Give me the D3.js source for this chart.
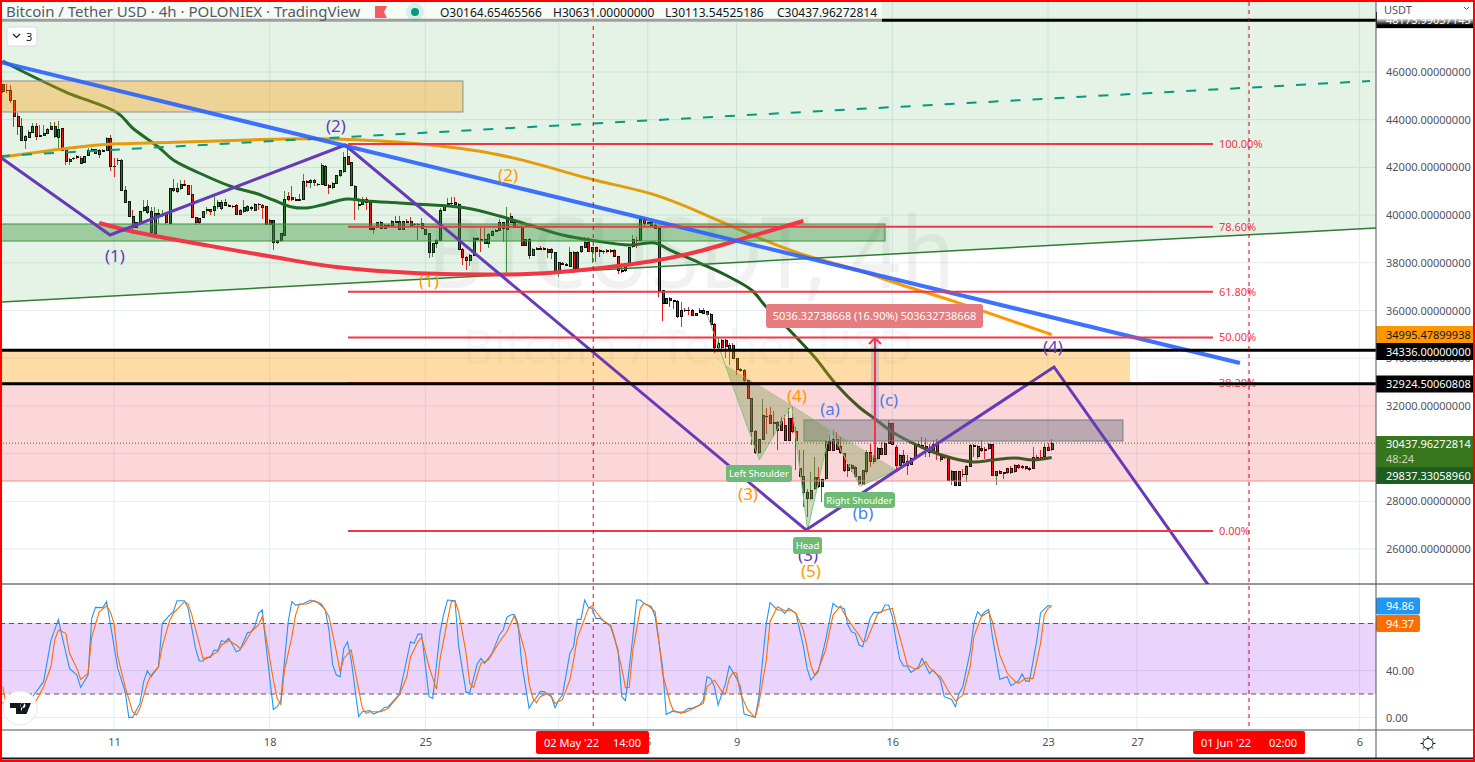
<!DOCTYPE html>
<html><head><meta charset="utf-8">
<script src="https://cdnjs.cloudflare.com/ajax/libs/d3/7.8.5/d3.min.js"></script>
<style>html,body{margin:0;padding:0;background:#fff;overflow:hidden}svg{display:block}text{font-family:"Noto Sans",sans-serif}</style>
</head><body><svg id="c" width="1475" height="762"></svg>
<script>
// ---------- candles (4h bars from 6 Apr 2022 00:00 UTC) ----------
const opens=[45455,45245,45245,44797,44153,43733,43117,43257,43453,43733,
43313,43341,43425,43593,43733,43257,43635,42753,42249,42361,
42445,42375,42193,42515,42697,42753,42697,42669,42725,43215,
42053,42305,42305,41017,40555,39953,39477,39673,40177,40345,
40135,39225,40037,40023,40065,39645,41115,40975,41115,41297,
41241,40863,39897,39673,39897,40205,40233,40177,40345,40527,
40541,40401,40373,40401,40205,40135,40177,40317,40205,40457,
40401,40373,39785,39785,38847,38917,39155,40765,40737,40653,
40653,40653,41395,41353,41465,41297,41297,42053,41255,41157,
41325,41675,41815,42445,42190,41220,40422,40450,40660,40534,
39414,39484,39708,39582,39540,39568,39722,39736,39400,39722,
39750,39624,39624,39652,39400,39232,38420,38812,38952,40184,
40436,40492,40520,40464,38560,38224,38084,38322,39008,38980,
38980,38812,39162,39344,39372,39680,39400,39932,39680,39512,
39540,38714,38994,38294,38588,38602,38602,38574,38560,38434,
37594,37972,37930,37860,38448,38448,38462,38644,38868,38462,
38644,38504,38490,38504,38504,38532,38252,37678,37664,37972,
38672,38952,38952,39820,39680,39708,39582,39442,36852,36292,
36502,36404,36362,35740,36020,36020,36020,35810,35908,35880,
35950,35852,35432,34452,34760,34760,34340,34550,33990,33500,
33500,33052,32310,30938,30028,30588,31568,31610,31288,31288,
31330,31190,30560,31470,30910,29370,29048,28362,28110,28530,
28992,28600,28950,30490,30140,30602,30308,30000,29300,29510,
29412,29020,28712,29230,30028,29650,29790,30210,29972,30420,
31260,30252,29510,29902,29650,29552,29790,30336,30336,30280,
30056,30028,30392,29748,29860,29790,28880,29230,28670,29132,
29132,29468,30322,29888,30210,30168,30196,30392,29076,29230,
29188,29188,29356,29230,29510,29440,29440,29384,29370,29832,
29832,29860,30252,30164];
const highs=[45500,45497,45455,44797,44265,44055,43355,43565,43845,43845,
43775,43775,43635,43915,43915,43943,43635,42753,42375,42417,
42501,42473,42473,42795,42795,42781,42753,42753,43285,43355,
42375,42375,42333,41213,40555,40205,39715,40177,40625,40625,
40345,40345,40275,40205,40135,41157,41493,41325,41465,41465,
41269,41269,39925,39897,40177,40345,40275,40765,40625,40653,
40695,40457,40429,40457,40275,40653,40415,40373,40513,40513,
40457,40401,39855,39813,38973,39253,41017,40975,41213,40765,
40905,41717,41465,41493,41493,41353,42165,42095,41297,41395,
41675,41885,42655,42935,42220,41250,40702,40744,40744,40562,
39512,39722,39736,39624,39624,39792,39960,39960,39764,39820,
39932,39680,39680,39862,39428,39260,38840,38980,40282,40464,
40702,40744,40772,40492,38602,38280,38364,39064,39064,39470,
39470,39232,39372,39428,39820,39708,40324,40072,39708,39568,
39568,39008,39022,38602,38644,38700,38672,38602,38616,38462,
38042,38028,37972,38672,38476,38476,38700,39092,39092,38672,
38672,38560,38532,38560,38560,38560,38280,37972,38000,38672,
39162,39092,39960,39904,39722,39764,39652,39484,36880,36544,
36572,36460,36460,36370,36090,36132,36048,35908,36090,36090,
35992,35880,35460,34830,34788,34788,34648,34620,34018,33570,
33528,33080,32352,30980,30630,32310,31932,31960,31792,31372,
31540,31610,31932,31960,31120,30140,30140,28530,29230,29860,
29440,28950,30560,30980,30980,30910,30700,30028,29580,29552,
29468,29076,29300,30140,30392,29930,30280,30490,30490,31400,
31288,30350,30000,30168,29930,29860,30392,30532,30700,30672,
30392,30588,30630,29930,29930,29818,29300,29258,29258,29370,
29510,30420,30392,30350,30588,30280,30448,30420,29258,29328,
29230,29412,29468,29580,29580,29510,29468,29440,30280,29930,
30140,30392,30448,30631];
const lows=[45130,45133,44685,43705,43355,43117,42753,43215,43425,43145,
43285,43313,43397,43565,43215,42795,42697,42095,42095,42305,
42361,42137,42165,42473,42669,42557,42375,42641,42697,41857,
41605,42095,41017,40527,39925,39225,39449,39645,40135,40065,
39225,39197,39645,39925,39645,39617,40989,40933,41073,41213,
40835,39897,39575,39645,39869,40065,39995,39953,40275,40205,
40373,40345,40289,39995,39995,40107,40149,40177,40177,40205,
39855,39589,39589,38525,38805,38889,39127,40597,40597,40597,
40597,40625,41185,41157,41213,41241,41269,41227,40905,41115,
41297,41605,41773,42095,41200,39792,40212,40422,40212,39372,
39204,39456,39414,39400,39512,39540,39652,39372,39372,39652,
39554,39512,38952,39414,39162,38182,38224,38602,38924,40156,
40408,40436,40436,38532,37902,37692,37860,38280,38952,38462,
38784,38602,39120,39288,39344,38882,37482,39652,39456,39456,
38686,38686,38168,38266,38532,38532,38560,38182,38140,37566,
37412,37888,37860,37832,37552,37692,38420,38616,38434,37972,
38042,38252,38364,38392,38420,38224,37524,37580,37622,37944,
38602,38602,38924,39512,39624,39540,39400,36572,35564,36264,
36152,36082,35704,35320,35950,35810,35782,35768,35880,35852,
35824,35404,34200,34270,34270,33990,33710,33948,33290,33430,
33010,32282,30350,30000,30000,30560,30812,31232,30700,30168,
30952,30532,30532,30868,29300,29020,27760,27340,28068,28460,
28572,27970,28880,30112,30112,30140,30000,29244,29020,29230,
29020,28698,28670,29160,29440,29580,29720,29930,29930,30392,
30364,29300,29482,29580,29090,29510,29748,30280,30210,29860,
29860,30000,29720,29650,29790,28852,28670,28642,28642,29020,
28810,29440,29860,29790,30084,29790,30168,29062,28670,29132,
28950,29160,29160,29188,29370,29356,29300,29272,29342,29748,
29776,29832,30112,30113];
const closes=[45175,45217,44797,44125,43733,43117,43285,43453,43733,43285,
43341,43425,43593,43733,43285,43593,42725,42235,42333,42389,
42403,42165,42445,42697,42753,42585,42557,42725,43215,42053,
42039,42277,41017,40527,39953,39477,39673,40135,40317,40093,
39253,40065,40065,40037,39673,41115,41017,41115,41283,41241,
40863,39897,39673,39855,40149,40233,40135,40373,40527,40275,
40401,40373,40345,40023,40023,40317,40345,40289,40457,40429,
40317,39617,39617,38847,38931,39225,40653,40653,40653,40639,
40639,41409,41381,41437,41381,41283,42081,41255,41157,41325,
41647,41857,42417,42123,41230,40632,40464,40660,40534,39400,
39428,39694,39442,39428,39554,39750,39708,39400,39736,39708,
39582,39610,39610,39442,39190,38420,38812,38952,40212,40408,
40492,40478,40464,38560,38224,38084,38322,39022,38994,38952,
38812,39204,39330,39330,39680,39442,39904,39680,39484,39498,
38714,38980,38294,38574,38574,38588,38588,38434,38420,37594,
38014,37944,37888,38434,37762,37762,38672,38840,38462,38644,
38462,38490,38476,38490,38490,38252,37692,37664,37972,38644,
38980,38938,39820,39652,39666,39582,39442,36852,36292,36502,
36404,36362,35732,35990,35992,35992,35810,35880,36020,35992,
35852,35432,34452,34620,34452,34480,34550,33990,33528,33528,
33080,32310,30938,30028,30588,31610,31554,31260,31274,30980,
30980,30560,31470,30910,30532,29048,28362,28110,28460,28992,
28600,28922,30490,30140,30588,30168,30028,29272,29538,29370,
29048,28740,29272,30028,29678,29790,30210,29972,30420,31260,
30392,29510,29930,29622,29510,29790,30322,30392,30252,30070,
30028,30392,30000,29860,29832,28880,29230,28670,29230,29118,
29468,30350,30308,30280,30112,30154,30392,29090,29230,29160,
29174,29356,29202,29510,29412,29426,29356,29328,29832,29818,
29818,30238,30140,30438];

// ---------- moving averages (bar index, price) ----------
const maGreenBars=[0,3,17,31,35,42,46,53,62,68,73,78,82,86,93,98,107,116,125,134,142,151,160,169,176,180,188,195,202,206,213,219,225,231,235,240,246,251,256,262,267,273,278,283];
const maGreenPrices=[46461,46210,45161,44281,43652,42855,42310,41765,41178,40926,40633,40340,40298,40423,40675,40591,40507,40423,40298,39962,39585,39165,38914,38746,38830,38536,37991,37488,36859,36146,35056,34050,32876,31954,31492,30905,30402,30067,29815,29648,29731,29815,29731,29837];
const maOrangeBars=[0,17,31,44,71,89,112,134,150,161,175,188,202,215,229,242,256,269,283];
const maOrangePrices=[42436,42813,43023,43023,43191,43233,43023,42604,41891,41388,40968,40130,39165,38327,37823,37069,36440,35727,34995];

// ---------- drawn shapes: days since 11 Apr 2022, price ----------
const fibLevels=[1,0.786,0.618,0.5,0.382,0];
const fibNames=["100.00%","78.60%","61.80%","50.00%","38.20%","0.00%"];
const fibHigh=42981, fibLow=26755, fibFromDay=10.52, fibToDay=49.42;
const blueDays=[-5.126,50.63], bluePrices=[46419,33799];
const slopeDays=[-5.126,56.75], slopePrices=[36356,39459];
const tealDays=[-5.126,56.48], tealPrices=[42478,45623];
const waveDays=[-5.126,-0.18,10.39,31.12,42.27,50];
const wavePrices=[42436,39166,42939,26797,33631,23446];
const arcBars=[26,35,44,53,62,75,89,112,136,149,162,175,188,202,216];
const arcPrices=[39669,39291,39040,38788,38536,38201,37782,37530,37488,37572,37782,38033,38453,39123,39752];
const levelLines=[48173.99037145,34336,32924.50060808];
const boxTan=[-5.126,15.69,45623,44323];
const boxGreen=[-5.126,34.67,39627,38914];
const boxOrange=[-5.126,45.69,34336,32924];
const boxPink=[-5.126,56.75,32924,28851];
const boxGray=[31.03,45.37,31409,30528];
const hsDays=[26.65,29.02,30.47,31.19,32.2,33.55,35.2];
const hsPrices=[35882,29731,32037,26796,30989,28641,29312];
const neckDay=27.48, neckPrice=33714;
const rangeDay=34.22, rangeTop=34845, rangeBottom=29809;
const purpleLabels=["(1)","(2)","(3)","(4)"], purpleLabelDays=[0.04,9.98,31.21,42.22], purpleLabelPrices=[38285,43736,25748,34470];
const orangeLabels=["(1)","(2)","(3)","(4)","(5)"], orangeLabelDays=[14.16,17.72,28.51,30.71,31.34], orangeLabelPrices=[37237,41681,28305,32415,25077];
const blueLabels=["(a)","(b)","(c)"], blueLabelDays=[32.2,33.68,34.85], blueLabelPrices=[31870,27509,32247];
const vlineDays=[21.55,51.04];

// ---------- stochastic RSI (bar index, value) ----------
const kBars=[0,1,2,8,11,13,15,16,18,20,21,23,24,25,27,28,29,31,33,34,35,37,38,39,40,42,43,45,46,47,49,50,52,53,54,55,56,57,58,59,60,61,63,64,66,67,68,69,70,71,73,74,75,77,78,79,81,83,85,86,87,88,89,90,91,92,93,94,96,97,99,100,102,103,104,106,107,110,111,112,113,115,116,118,119,120,122,123,125,126,128,129,130,132,134,135,136,137,138,139,140,142,143,144,145,146,148,149,150,151,153,154,155,156,157,158,159,160,161,163,164,166,167,168,170,171,172,173,175,176,178,179,181,183,185,186,188,189,190,191,192,193,195,196,198,199,200,203,204,206,207,209,210,211,212,214,216,217,218,220,222,224,225,227,228,229,230,231,232,234,235,237,238,239,240,241,242,243,244,245,247,248,249,250,251,252,253,254,256,257,258,259,261,262,263,264,265,266,267,269,271,272,274,275,276,277,279,280,282,283];
const kValues=[13.4,0.7,0.1,17.7,30.5,65.9,83.5,68.8,41.8,36.1,25.6,36.1,84.4,93.7,93.5,98.6,80.1,41.8,22,0.1,0.1,12,30.5,39.8,34.7,43.2,80.1,87.2,90,99.4,99.4,92.9,58.8,48.1,48.1,51.2,51.2,57.4,56.9,65.4,64.5,67.4,56,57.4,72.2,73,77.8,88.6,91.5,61.7,6.9,9.2,14.3,81.5,98.6,95.7,96.6,100,97.7,94.9,91.5,74.4,44.7,36.1,34.7,58.8,64.5,48.9,0.7,4.9,5.8,2.9,5.8,8.6,9.2,16.3,20,64.5,63.1,71,71,17.7,16.3,73,88.6,100,99.4,60.3,21.4,21.4,45.5,50.3,46.1,54.6,70.5,74.4,85.2,87.2,87.8,80.1,46.1,7.8,13.4,17.1,22,22,17.7,8.3,14.9,19.1,54.6,60.3,83.5,83.5,100,93.7,92.9,84.4,84.4,80.1,77.3,57.4,17.7,14.3,68.8,100,100,97.1,94.3,85.8,43.2,2.7,5.8,3.5,7.8,7.8,10.6,14.9,34.7,33.3,26.2,10.6,29,43.8,33.3,26.2,3,0.1,17.7,80.1,97.7,91.5,91.5,88.6,92.9,88.6,60.3,41.8,31.9,39,65.9,97.1,94.3,92.9,78.7,73,71.6,61.7,60.3,84.4,89.5,89.5,95.7,95.7,85.8,65.9,49.5,43.8,43.8,38.4,42.7,50.3,43.8,37.6,40.4,36.7,31.9,17.7,15.4,9.2,20.5,26.2,56,80.1,90,86.4,90,92,68.8,32.5,34.7,27.1,31,37,31,31,65.9,89.2,95.2,94.86];
const dBars=[0,1,9,11,13,14,15,17,18,20,21,23,24,26,28,29,30,31,33,35,36,37,39,40,42,43,45,46,49,50,51,53,54,55,58,59,61,63,64,65,67,69,70,71,73,74,75,76,78,79,80,82,84,86,88,90,91,92,94,95,97,98,99,102,104,107,109,110,112,113,115,117,118,120,121,122,123,125,126,127,129,131,134,136,138,139,141,142,143,144,145,147,148,149,151,153,154,155,157,158,159,160,162,164,165,167,168,169,170,172,173,174,176,177,178,180,181,184,186,189,190,192,194,195,196,197,198,199,201,203,204,206,207,209,211,213,214,216,218,219,220,222,224,226,227,229,231,232,233,235,236,238,240,241,243,244,246,247,249,250,252,253,255,257,259,261,262,264,266,267,269,271,273,274,276,277,278,280,281,282,283];
const dValues=[26.2,9.2,14.3,26.2,43.2,65.9,74.4,71.6,54.6,41.8,32.5,37.6,68.8,90,94.9,90,80.1,51.7,26.2,4.9,2.1,7.8,29,36.1,43.2,60.3,82.4,88.6,98.6,96.6,87.2,63.1,50.3,50.3,56,61.7,65.4,61.7,58.8,61.7,73,78.7,85.8,68.8,31.9,16.3,11.2,40.4,68.8,87.2,96.6,96.6,99.4,96.6,85.8,56,39,50.3,57.4,40.4,7.8,3.5,4.9,4.9,7.8,19.1,34.7,51.7,64.5,68.2,43.2,24.2,50.3,83,98.6,99.4,90,54.6,29,25.6,46.1,48.9,64.5,73,86.6,77.3,54.6,29,16.3,12.6,17.7,20.5,18.3,12,15.4,31.9,48.9,67.4,84.4,92.9,94.9,90,82.4,78.7,68.8,41.8,25.4,25.6,57.4,92.9,97.1,95.7,90,65.9,37.6,13.4,4.9,4.4,7.2,12,26.2,31.9,22,20,33.3,38.4,37.6,20.5,6.4,0.1,12,48.9,81.5,94.3,90.9,90.9,88.6,74.4,44.7,36.1,40.4,57.4,87.2,94.9,88.6,78.7,70.2,64.5,65.1,80.1,88.1,91.5,92.9,80.1,57.4,44.7,41.3,41.8,47.5,42.7,36.7,34.7,23.4,14,19.1,43.2,68.8,85.8,90,81.5,53.2,37.6,31,29,33.3,33.3,33.3,63.1,87.2,92.9,94.37];

// ---------- axes ----------
const priceTicks=[46000,44000,42000,40000,38000,36000,34000,32000,30000,28000,26000];
const stochTicks=[0,40];
const timeTickDays=[0,7,14,20,24,28,35,42,46,51,56];
const timeTickLabels=["11","18","25","May","5","9","16","23","27","Jun","6"];
const priceLabels=[{t:"34995.47899938",c:334.5,bg:"#ff9800",fg:"#131722"},{t:"34336.00000000",c:351.5,bg:"#000",fg:"#fff"},{t:"32924.50060808",c:384,bg:"#000",fg:"#fff"},{t:"29837.33058960",c:475.5,bg:"#1b5e20",fg:"#fff"}];
const legendO="O30164.65465566", legendH="H30631.00000000", legendL="L30113.54525186", legendC="C30437.96272814";

const svg=d3.select("#c");
const W=1376, MAINB=584, SUBB=730;
const dayMs=864e5, t0=Date.UTC(2022,3,11);
const dayDate=d=>new Date(t0+d*dayMs);
const barDate=i=>new Date(Date.UTC(2022,3,6)+i*4*36e5);
const x=d3.scaleUtc().domain([dayDate(0),dayDate(42)]).range([114,1048]);
const y=d3.scaleLinear().domain([46000,26000]).range([72,549]);
const ys=d3.scaleLinear().domain([0,40]).range([717.5,670.5]);
const X=d=>x(dayDate(d)), XB=i=>x(barDate(i));

const defs=svg.append("defs");
defs.append("clipPath").attr("id","mp").append("rect").attr("x",2).attr("y",2).attr("width",W-2).attr("height",MAINB-2);
defs.append("clipPath").attr("id","sp").append("rect").attr("x",2).attr("y",MAINB).attr("width",W-2).attr("height",SUBB-MAINB);
const gr=defs.append("linearGradient").attr("id","fade").attr("x1",0).attr("x2",0).attr("y1",0).attr("y2",1);
gr.append("stop").attr("offset",0).attr("stop-color","#fff").attr("stop-opacity",1);
gr.append("stop").attr("offset",1).attr("stop-color","#fff").attr("stop-opacity",0);

svg.append("rect").attr("width",1475).attr("height",762).attr("fill","#fff");

// grid
const gridCol="#e2ebf3";
const gg=svg.append("g");
gg.selectAll("line.v").data(timeTickDays).join("line").attr("x1",d=>X(d)).attr("x2",d=>X(d)).attr("y1",2).attr("y2",SUBB).attr("stroke",gridCol);
gg.selectAll("line.h").data(priceTicks).join("line").attr("class","h").attr("x1",0).attr("x2",W).attr("y1",d=>y(d)).attr("y2",d=>y(d)).attr("stroke",gridCol);
gg.selectAll("line.s").data([0,40,80]).join("line").attr("class","s").attr("x1",0).attr("x2",W).attr("y1",d=>ys(d)).attr("y2",d=>ys(d)).attr("stroke",gridCol);

const main=svg.append("g").attr("clip-path","url(#mp)");
// watermark
main.append("text").attr("x",691).attr("y",288).attr("text-anchor","middle").attr("font-size",98).attr("textLength",528).attr("lengthAdjust","spacingAndGlyphs").attr("fill","#000").attr("fill-opacity",.055).text("BTCUSDT, 4h");
main.append("text").attr("x",688).attr("y",364).attr("text-anchor","middle").attr("font-size",48).attr("fill","#000").attr("fill-opacity",.055).text("Bitcoin / Tether USD");

// candles
const idx=d3.range(opens.length);
const up=i=>closes[i]>=opens[i];
const cG="#2a7a2e", cR="#ff0000";
main.append("g").selectAll("line").data(idx).join("line")
 .attr("x1",XB).attr("x2",XB).attr("y1",i=>y(highs[i])).attr("y2",i=>y(lows[i]))
 .attr("stroke",i=>up(i)?"#3d8b33":"#f0141c").attr("stroke-width",1).attr("shape-rendering","crispEdges");
main.append("g").selectAll("rect").data(idx).join("rect")
 .attr("x",i=>Math.round(XB(i))-1).attr("width",2)
 .attr("y",i=>y(Math.max(opens[i],closes[i]))).attr("height",i=>Math.max(.6,Math.abs(y(opens[i])-y(closes[i]))))
 .attr("fill",i=>up(i)?cG:cR).attr("stroke","#000").attr("stroke-width",1).attr("shape-rendering","crispEdges");

// moving averages
const pathBars=(bars,vals,yy,curve)=>d3.line().x(i=>XB(bars[i])).y(i=>yy(vals[i])).curve(curve||d3.curveLinear)(d3.range(bars.length));
const pathDays=(days,vals)=>d3.line().x(i=>X(days[i])).y(i=>y(vals[i]))(d3.range(days.length));
main.append("path").attr("d",pathBars(maGreenBars,maGreenPrices,y,d3.curveCatmullRom)).attr("fill","none").attr("stroke","#1b5e20").attr("stroke-width",3);
main.append("path").attr("d",pathBars(maOrangeBars,maOrangePrices,y,d3.curveBasis)).attr("fill","none").attr("stroke","#ff9800").attr("stroke-width",3);

// boxes
const box=(b,fill,op,stroke,sw)=>main.append("rect").attr("x",X(b[0])).attr("width",X(b[1])-X(b[0])).attr("y",y(b[2])).attr("height",y(b[3])-y(b[2])).attr("fill",fill).attr("fill-opacity",op).attr("stroke",stroke||"none").attr("stroke-width",sw||1);
// green channel fill: everything above the rising line
main.append("path").attr("d",d3.area().x(i=>X(slopeDays[i])).y0(i=>y(slopePrices[i])).y1(0)(d3.range(2))).attr("fill","#4caf50").attr("fill-opacity",.15);
box(boxTan,"#ff9800",.35,"#8f8f8f",1);
box(boxGreen,"#388e3c",.4,"#3f933f",1);
box(boxOrange,"#ff9800",.35);
box(boxPink,"#f23645",.2);
main.append("line").attr("x1",0).attr("x2",W).attr("y1",y(boxPink[3])).attr("y2",y(boxPink[3])).attr("stroke","#f28d92");
box(boxGray,"#787b86",.5,"#787b86",1);
main.append("path").attr("d",pathDays(slopeDays,slopePrices)).attr("stroke","#2e7d32").attr("stroke-width",1.5).attr("fill","none");
main.append("path").attr("d",pathDays(tealDays,tealPrices)).attr("stroke","#089981").attr("stroke-width",2).attr("stroke-dasharray","10 12").attr("fill","none");

// head & shoulders
const hs=d3.range(hsDays.length).map(i=>[X(hsDays[i]),y(hsPrices[i])]);
const nk=[X(neckDay),y(neckPrice)];
const hsPoly=pts=>main.append("polygon").attr("points",pts.map(p=>p.join(",")).join(" ")).attr("fill","#7a9a4a").attr("fill-opacity",.38);
hsPoly([nk,hs[1],hs[2]]);hsPoly([hs[2],hs[3],hs[4]]);hsPoly([hs[4],hs[5],hs[6]]);
main.append("path").attr("d",d3.line()(hs)).attr("fill","none").attr("stroke","#81c784").attr("stroke-width",1);
main.append("line").attr("x1",nk[0]).attr("y1",nk[1]).attr("x2",hs[6][0]).attr("y2",hs[6][1]).attr("stroke","#81c784").attr("stroke-dasharray","1 2");

// arcs and trend lines
main.append("path").attr("d",pathBars(arcBars,arcPrices,y,d3.curveBasis)).attr("fill","none").attr("stroke","#f23645").attr("stroke-width",4);
main.append("path").attr("d",pathDays(waveDays,wavePrices)).attr("fill","none").attr("stroke","#673ab7").attr("stroke-width",3);
main.append("path").attr("d",pathDays(blueDays,bluePrices)).attr("fill","none").attr("stroke","#2962ff").attr("stroke-width",4).attr("stroke-opacity",.9);

// fib
const fibP=l=>fibLow+(fibHigh-fibLow)*l;
main.append("g").selectAll("line").data(fibLevels).join("line").attr("x1",X(fibFromDay)).attr("x2",X(fibToDay)).attr("y1",l=>y(fibP(l))).attr("y2",l=>y(fibP(l))).attr("stroke","#f23645").attr("stroke-width",2);
main.append("g").selectAll("text").data(fibLevels).join("text").attr("x",X(fibToDay)+6).attr("y",l=>y(fibP(l))+4).attr("font-size",11).attr("fill","#f23645").text((l,i)=>fibNames[i]);

// range arrow
const ax=X(rangeDay);
main.append("rect").attr("x",ax-4).attr("width",8).attr("y",y(rangeTop)).attr("height",y(31400)-y(rangeTop)).attr("fill","#2962ff").attr("fill-opacity",.2);
main.append("line").attr("x1",ax).attr("x2",ax).attr("y1",y(rangeBottom)).attr("y2",y(rangeTop)).attr("stroke","#f23645").attr("stroke-width",2);
main.append("path").attr("d",`M${ax-6},${y(rangeTop)+6}L${ax},${y(rangeTop)}L${ax+6},${y(rangeTop)+6}`).attr("fill","none").attr("stroke","#f23645").attr("stroke-width",2);
main.append("rect").attr("x",766).attr("y",304).attr("width",217).attr("height",24).attr("rx",3).attr("fill","#e57c7f");
main.append("text").attr("x",874.5).attr("y",320).attr("text-anchor","middle").attr("font-size",11).attr("fill","#fff").text("5036.32738668 (16.90%) 503632738668");

// level lines & price line
main.append("g").selectAll("line").data(levelLines).join("line").attr("x1",0).attr("x2",W).attr("y1",d=>y(d)).attr("y2",d=>y(d)).attr("stroke","#000").attr("stroke-width",3);
main.append("line").attr("x1",0).attr("x2",W).attr("y1",y(closes[283])).attr("y2",y(closes[283])).attr("stroke","#2e7d32").attr("stroke-dasharray","1 2");
// crosshair-like dashed verticals
svg.append("g").selectAll("line").data(vlineDays).join("line").attr("x1",X).attr("x2",X).attr("y1",2).attr("y2",SUBB).attr("stroke","#e8000b").attr("stroke-dasharray","4 4");

// wave labels
const lab=(names,days,prices,col)=>main.append("g").selectAll("text").data(names).join("text").attr("x",(d,i)=>X(days[i])).attr("y",(d,i)=>y(prices[i])+6).attr("text-anchor","middle").attr("font-size",17).attr("fill",col).text(d=>d);
lab(purpleLabels,purpleLabelDays,purpleLabelPrices,"#673ab7");
lab(orangeLabels,orangeLabelDays,orangeLabelPrices,"#ff9800");
lab(blueLabels,blueLabelDays,blueLabelPrices,"#4a7fe8");

// pattern labels
[["Left Shoulder",726,465,66,17],["Right Shoulder",824,492,71,16],["Head",793,537,29,17]].forEach(r=>{
 main.append("rect").attr("x",r[1]).attr("y",r[2]).attr("width",r[3]).attr("height",r[4]).attr("rx",3).attr("fill","#6dbb74");
 main.append("text").attr("x",r[1]+r[3]/2).attr("y",r[2]+r[4]/2+3.5).attr("text-anchor","middle").attr("font-size",9.5).attr("fill","#fff").text(r[0]);
});

// stoch pane
const sub=svg.append("g").attr("clip-path","url(#sp)");
sub.append("rect").attr("x",0).attr("width",W).attr("y",ys(80)).attr("height",ys(20)-ys(80)).attr("fill","#9c27f0").attr("fill-opacity",.2);
sub.append("g").selectAll("line").data([80,20]).join("line").attr("x1",0).attr("x2",W).attr("y1",d=>ys(d)).attr("y2",d=>ys(d)).attr("stroke","#5d5565").attr("stroke-dasharray","5 4");
sub.append("path").attr("d",pathBars(kBars,kValues,ys)).attr("fill","none").attr("stroke","#2196f3").attr("stroke-width",1.1);
sub.append("path").attr("d",pathBars(dBars,dValues,ys)).attr("fill","none").attr("stroke","#ff6d00").attr("stroke-width",1.1);
// logo
const lg=svg.append("g");
lg.append("circle").attr("cx",20).attr("cy",708).attr("r",17).attr("fill","#fff").attr("stroke","#e6e6e6");
lg.append("path").attr("fill","#131722").attr("d","M10,703H21V714H16V708H10ZM23,703a2.5,2.5 0 1 0 .01,0ZM24.5,703H31L26.5,714H20Z");

// right scale panel
svg.append("rect").attr("x",W).attr("y",0).attr("width",1475-W).attr("height",762).attr("fill","#fff");
svg.append("rect").attr("x",0).attr("y",SUBB).attr("width",W).attr("height",30).attr("fill","#fff");
const tickFmt=d=>d3.format(".8f")(d);
const ya=svg.append("g").attr("transform",`translate(${W},0)`).call(d3.axisRight(y).tickValues(priceTicks).tickFormat(tickFmt).tickSize(0).tickPadding(10));
const ysa=svg.append("g").attr("transform",`translate(${W},0)`).call(d3.axisRight(ys).tickValues(stochTicks).tickFormat(d3.format(".2f")).tickSize(0).tickPadding(10));
const xa=svg.append("g").attr("transform",`translate(0,${SUBB})`).call(d3.axisBottom(x).tickValues(timeTickDays.map(dayDate)).tickFormat((d,i)=>timeTickLabels[i]).tickSize(0).tickPadding(8));
[ya,ysa,xa].forEach(a=>{a.select(".domain").remove();a.selectAll("text").attr("font-size",11).attr("fill","#50535e").style("font-family",'"Noto Sans",sans-serif');});

// price tags
const tag=(yc,h,bg,fg,t)=>{svg.append("rect").attr("x",W).attr("y",yc-h/2).attr("width",97).attr("height",h).attr("fill",bg);svg.append("text").attr("x",W+10).attr("y",yc+4).attr("font-size",11).attr("fill",fg).text(t);};
tag(y(levelLines[0]),16,"#000","#fff","48173.99037145");
svg.append("rect").attr("x",W+1).attr("y",2).attr("width",96).attr("height",17).attr("fill","#fff");
svg.append("rect").attr("x",W+1).attr("y",18).attr("width",96).attr("height",7).attr("fill","url(#fade)");
svg.append("text").attr("x",1384).attr("y",14).attr("font-size",11).attr("fill","#50535e").text("USDT");
svg.append("path").attr("d","M1464,7l2.5,2.5l2.5,-2.5").attr("fill","none").attr("stroke","#50535e");
svg.append("rect").attr("x",W).attr("y",436).attr("width",97).attr("height",31).attr("fill","#38761d");
svg.append("text").attr("x",W+10).attr("y",448).attr("font-size",11).attr("fill","#fff").text("30437.96272814");
svg.append("text").attr("x",W+10).attr("y",463).attr("font-size",11).attr("fill","#c8d8c0").text("48:24");
priceLabels.forEach(l=>tag(l.c,17,l.bg,l.fg,l.t));
[["94.86",606,"#2196f3"],["94.37",623.5,"#ff6d00"]].forEach(l=>{svg.append("rect").attr("x",W).attr("y",l[1]-8.5).attr("width",44).attr("height",17).attr("rx",2).attr("fill",l[2]);svg.append("text").attr("x",W+10).attr("y",l[1]+4).attr("font-size",11).attr("fill","#fff").text(l[0]);});

// time crosshair tags
[["02 May '22",  "14:00",536,113],["01 Jun '22","02:00",1193,112]].forEach(l=>{
 svg.append("rect").attr("x",l[2]).attr("y",SUBB+1).attr("width",l[3]).attr("height",23).attr("rx",2).attr("fill","#ff0000");
 svg.append("text").attr("x",l[2]+8).attr("y",SUBB+17).attr("font-size",11).attr("fill","#fff").attr("xml:space","preserve").text(l[0]);
 svg.append("text").attr("x",l[2]+l[3]-8).attr("y",SUBB+17).attr("font-size",11).attr("text-anchor","end").attr("fill","#fff").text(l[1]);
});

// frame lines
svg.append("line").attr("x1",0).attr("x2",1473).attr("y1",MAINB).attr("y2",MAINB).attr("stroke","#2a2e39");
svg.append("line").attr("x1",0).attr("x2",1473).attr("y1",SUBB).attr("y2",SUBB).attr("stroke","#50535e");
svg.append("line").attr("x1",W).attr("x2",W).attr("y1",2).attr("y2",758).attr("stroke","#50535e");
svg.append("line").attr("x1",0).attr("x2",1475).attr("y1",758.5).attr("y2",758.5).attr("stroke","#131722").attr("stroke-width",2);

// gear
const gear=svg.append("g").attr("transform","translate(1428,743.5)");
gear.append("circle").attr("r",5).attr("fill","none").attr("stroke","#131722");
d3.range(8).forEach(i=>{const a=i*Math.PI/4;gear.append("line").attr("x1",5*Math.cos(a)).attr("y1",5*Math.sin(a)).attr("x2",7.5*Math.cos(a)).attr("y2",7.5*Math.sin(a)).attr("stroke","#131722");});

// legend
svg.append("rect").attr("x",2).attr("y",2).attr("width",880).attr("height",20).attr("fill","#fff").attr("fill-opacity",.62);
svg.append("text").attr("x",6).attr("y",17).attr("font-size",15).attr("fill","#555a66").text("Bitcoin / Tether USD · 4h · POLONIEX · TradingView");
svg.append("path").attr("d","M375,6H387L384,12L387,18H375Z").attr("fill","#f55a64");
svg.append("circle").attr("cx",415).attr("cy",12).attr("r",9).attr("fill","#089981").attr("fill-opacity",.12);
svg.append("circle").attr("cx",415).attr("cy",12).attr("r",4).attr("fill","#089981");
[[legendO,440],[legendH,553],[legendL,665],[legendC,777]].forEach(l=>svg.append("text").attr("x",l[1]).attr("y",17).attr("font-size",12).attr("fill","#131722").text(l[0]));

// button
svg.append("rect").attr("x",7).attr("y",27).attr("width",30).attr("height",19).attr("rx",3).attr("fill","#fff").attr("stroke","#d8dbe2");
svg.append("path").attr("d","M13,34l3.5,3.5l3.5,-3.5").attr("fill","none").attr("stroke","#131722").attr("stroke-width",1.2);
svg.append("text").attr("x",26).attr("y",41).attr("font-size",11).attr("fill","#131722").text("3");

// red window frame
svg.append("rect").attr("x",1).attr("y",1).attr("width",1473).attr("height",760).attr("fill","none").attr("stroke","#ff0000").attr("stroke-width",2);
</script></body></html>
